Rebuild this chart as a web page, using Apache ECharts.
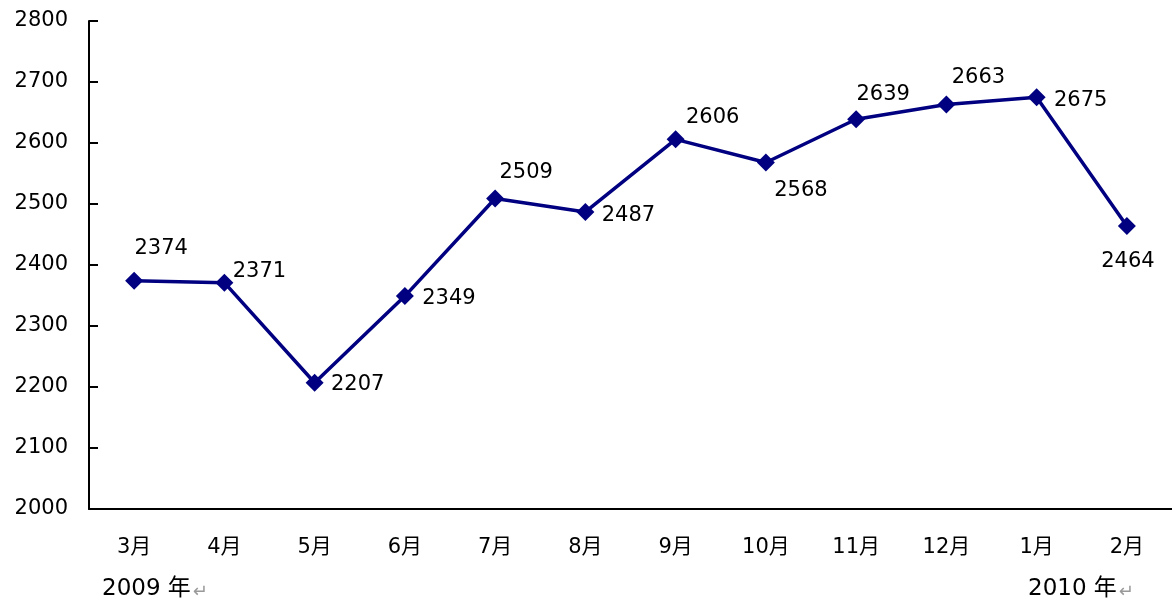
<!DOCTYPE html>
<html><head><meta charset="utf-8">
<script src="https://cdn.jsdelivr.net/npm/echarts@6/dist/echarts.min.js"></script>
<style>html,body{margin:0;padding:0;background:#fff}#c{width:1172px;height:601px}</style>
</head><body><div id="c"></div>
<script>
const categories = ['3月','4月','5月','6月','7月','8月','9月','10月','11月','12月','1月','2月'];
const values = [2374, 2371, 2207, 2349, 2509, 2487, 2606, 2568, 2639, 2663, 2675, 2464];
const yTicks = [2000, 2100, 2200, 2300, 2400, 2500, 2600, 2700, 2800];
const yearLabels = ['2009 年', '2010 年'];
// label placement offsets (style)
const labelOffsets = [[27,-32],[35,-11],[43,2],[44,2],[31,-26],[43,4],[37,-22],[35,28],[27,-25],[32,-27],[44,3],[1,36]];

const font = '"DejaVu Sans", "Noto Sans CJK SC", sans-serif';
const chart = echarts.init(document.getElementById('c'));
chart.setOption({
  animation: false,
  backgroundColor: '#fff',
  grid: { left: 89, top: 21, width: 1091, height: 488, containLabel: false },
  xAxis: {
    type: 'category', data: categories, boundaryGap: true,
    axisLine: { lineStyle: { color: '#000', width: 2 } },
    axisTick: { inside: true, length: 9, lineStyle: { color: '#000', width: 2 } },
    axisLabel: { color: '#000', fontSize: 21, margin: 28, fontFamily: font },
    splitLine: { show: false }
  },
  yAxis: {
    type: 'value', min: yTicks[0], max: yTicks[yTicks.length-1], interval: 100,
    axisLine: { show: true, lineStyle: { color: '#000', width: 2 } },
    axisTick: { show: true, inside: true, length: 9, lineStyle: { color: '#000', width: 2 } },
    axisLabel: { color: '#000', fontSize: 21, margin: 21, fontFamily: font, formatter: v => String(v) },
    splitLine: { show: false }
  },
  series: [{
    type: 'line', data: values.map((v, i) => ({
      value: v,
      label: { offset: labelOffsets[i] }
    })),
    symbol: 'diamond', symbolSize: 18,
    lineStyle: { color: '#000080', width: 3.5 },
    itemStyle: { color: '#000080' },
    label: { show: true, position: 'inside', color: '#000', fontSize: 21, fontFamily: font }
  }],
  graphic: [
    { type: 'text', left: 102, top: 578, style: { text: yearLabels[0] + '{r|↵}', fill: '#000', font: '23px "DejaVu Sans", "Noto Sans CJK SC", sans-serif', rich: { r: { fill: '#999', font: '18px "DejaVu Sans", sans-serif', padding: [6, 0, 0, 2] } } } },
    { type: 'text', left: 1028, top: 578, style: { text: yearLabels[1] + '{r|↵}', fill: '#000', font: '23px "DejaVu Sans", "Noto Sans CJK SC", sans-serif', rich: { r: { fill: '#999', font: '18px "DejaVu Sans", sans-serif', padding: [6, 0, 0, 2] } } } }
  ]
});
</script></body></html>
